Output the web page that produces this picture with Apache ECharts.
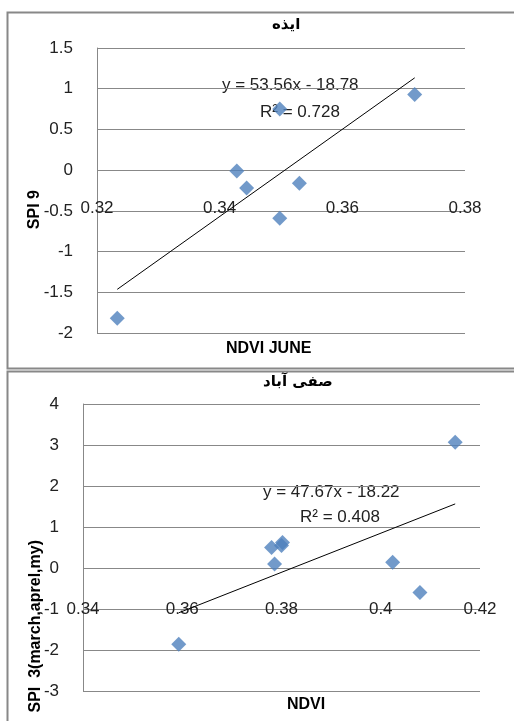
<!DOCTYPE html>
<html>
<head>
<meta charset="utf-8">
<script src="https://cdn.jsdelivr.net/npm/echarts@6/dist/echarts.min.js"></script>
<style>html,body{margin:0;padding:0;background:#fff}#chart{width:514px;height:721px}</style>
</head>
<body>
<div id="chart"></div>
<script>
// ایذه
const izehNdvi = [0.3233, 0.3428, 0.3444, 0.3498, 0.3498, 0.3530, 0.3718]
const izehSpi = [-1.82, -0.01, -0.22, 0.75, -0.59, -0.16, 0.93]
const izehFit = {slope: 53.56, intercept: -18.78, r2: 0.728}
// صفی آباد
const safiNdvi = [0.3593, 0.3780, 0.3786, 0.3802, 0.3800, 0.4024, 0.4079, 0.4150]
const safiSpi = [-1.86, 0.50, 0.10, 0.62, 0.55, 0.14, -0.60, 3.07]
const safiFit = {slope: 47.67, intercept: -18.22, r2: 0.408}

const font = 'Liberation Sans'
const pts = (xs, ys) => xs.map((x, i) => [x, ys[i]])
const fitLine = (xs, f) => {
  const a = Math.min(...xs), b = Math.max(...xs)
  return [[a, f.slope * a + f.intercept], [b, f.slope * b + f.intercept]]
}
// x labels sit on the y=0 line, like the original; shift the axis up into the grid
const xAx = (i, min, max, offset) => ({
  gridIndex: i, type: 'value', min: min, max: max, interval: 0.02,
  position: 'bottom', offset: offset,
  axisLine: {show: false, onZero: false},
  axisTick: {show: false}, splitLine: {show: false},
  axisLabel: {color: '#222', fontSize: 17, fontFamily: font, margin: 30}
})
const yAx = (i, min, max, step) => ({
  gridIndex: i, type: 'value', min: min, max: max, interval: step,
  axisLine: {show: true, onZero: false, lineStyle: {color: '#888'}},
  axisTick: {show: false},
  splitLine: {lineStyle: {color: '#888', width: 1}},
  axisLabel: {color: '#222', fontSize: 17, fontFamily: font, margin: 24}
})
const dots = (i, d) => ({
  type: 'scatter', xAxisIndex: i, yAxisIndex: i, data: d,
  symbol: 'diamond', symbolSize: 15, itemStyle: {color: '#4f81bd'}
})
const trend = (i, d) => ({
  type: 'line', xAxisIndex: i, yAxisIndex: i, data: d, symbol: 'none',
  lineStyle: {color: '#000', width: 1}
})
const txt = (x, y, s, opt) => Object.assign({
  type: 'text', left: x, top: y,
  style: {text: s, fill: '#222', font: '17px "' + font + '"'}
}, opt || {})

const chart = echarts.init(document.getElementById('chart'))
chart.setOption({
  animation: false,
  grid: [
    {left: 97, right: 49, top: 48, bottom: 388, containLabel: false, outerBoundsMode: 'none'},
    {left: 83, right: 34, top: 404, bottom: 30, containLabel: false, outerBoundsMode: 'none'}
  ],
  xAxis: [xAx(0, 0.32, 0.38, -163), xAx(1, 0.34, 0.42, -120)],
  yAxis: [yAx(0, -2, 1.5, 0.5), yAx(1, -3, 4, 1)],
  series: [
    dots(0, pts(izehNdvi, izehSpi)), trend(0, fitLine(izehNdvi, izehFit)),
    dots(1, pts(safiNdvi, safiSpi)), trend(1, fitLine(safiNdvi, safiFit))
  ],
  graphic: [
    {type: 'rect', shape: {x: 7.5, y: 12.5, width: 510, height: 356}, style: {fill: 'none', stroke: '#888', lineWidth: 2}},
    {type: 'rect', shape: {x: 7.5, y: 371.5, width: 510, height: 356}, style: {fill: 'none', stroke: '#888', lineWidth: 2}},
    txt(272, 18, 'ایذه', {style: {text: 'ایذه', fill: '#000', font: 'bold 15px "DejaVu Sans"', align: 'center'}}),
    txt(263, 375, 'صفی آباد', {style: {text: 'صفی آباد', fill: '#000', font: 'bold 15px "DejaVu Sans"', align: 'center'}}),
    txt(222, 77, 'y = ' + izehFit.slope + 'x - ' + Math.abs(izehFit.intercept)),
    txt(260, 104, 'R² = ' + izehFit.r2),
    txt(263, 484, 'y = ' + safiFit.slope + 'x - ' + Math.abs(safiFit.intercept)),
    txt(300, 509, 'R² = ' + safiFit.r2),
    txt(226, 341, 'NDVI JUNE', {style: {text: 'NDVI JUNE', fill: '#000', font: 'bold 16px "' + font + '"'}}),
    txt(287, 697, 'NDVI', {style: {text: 'NDVI', fill: '#000', font: 'bold 16px "' + font + '"'}}),
    txt(27, 190, 'SPI 9', {rotation: Math.PI / 2, style: {text: 'SPI 9', fill: '#000', font: 'bold 16px "' + font + '"', align: 'center', verticalAlign: 'middle'}}),
    txt(28, 540, 'SPI  3(march,aprel,my)', {rotation: Math.PI / 2, style: {text: 'SPI  3(march,aprel,my)', fill: '#000', font: 'bold 16px "' + font + '"', align: 'center', verticalAlign: 'middle'}})
  ]
})
</script>
</body>
</html>
